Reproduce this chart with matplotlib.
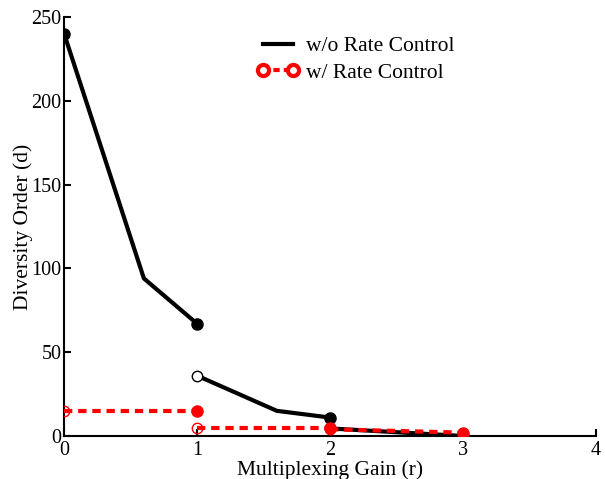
import matplotlib.pyplot as plt
from matplotlib.lines import Line2D

plt.rcParams["font.family"] = ["Liberation Serif", "DejaVu Serif"]
plt.rcParams["mathtext.fontset"] = "stix"

# black curve (w/o rate control), three pieces
black_x = [[0, 0.6, 1], [1, 1.6, 2], [2, 3]]
black_y = [[240, 94, 67], [36, 15, 11], [4.5, 0]]
black_open = [False, True, True]

# red curve (w/ rate control), three pieces
red_x = [[0, 1], [1, 2], [2, 3]]
red_y = [[15, 15], [5, 5], [4, 2]]

fig = plt.figure(figsize=(6.05, 4.79), dpi=100)
ax = fig.add_axes([0.106, 0.0898, 0.879, 0.8747])

for xs, ys, op in zip(black_x, black_y, black_open):
    ax.plot(xs, ys, color="black", lw=3, solid_capstyle="butt", zorder=3)
    if op:
        ax.plot(xs[0], ys[0], "o", ms=7.5, mfc="white", mec="black", mew=1, zorder=4)
    else:
        ax.plot(xs[0], ys[0], "o", ms=8, color="black", zorder=4)
    ax.plot(xs[-1], ys[-1], "o", ms=8, color="black", zorder=4)

for xs, ys in zip(red_x, red_y):
    ax.plot(xs, ys, color="red", lw=3, ls=(0, (2, 1.4)), zorder=5)
    ax.plot(xs[0], ys[0], "o", ms=7.5, mfc="none", mec="red", mew=1, zorder=6)
    ax.plot(xs[-1], ys[-1], "o", ms=8, color="red", zorder=6)

ax.set_xlim(0, 4)
ax.set_ylim(0, 250)
ax.set_xticks([0, 1, 2, 3, 4])
ax.set_yticks([0, 50, 100, 150, 200, 250])
ax.spines["top"].set_visible(False)
ax.spines["right"].set_visible(False)
ax.spines["left"].set_linewidth(1.5)
ax.spines["bottom"].set_linewidth(1.5)
ax.tick_params(direction="in", length=5, width=1.5, labelsize=14.5, pad=2)
ax.tick_params(axis="x", pad=3.5)
ax.set_xlabel("Multiplexing Gain (r)", fontsize=15.5, labelpad=0.5)
ax.set_ylabel("Diversity Order (d)", fontsize=15.5, labelpad=-1)

handles = [
    Line2D([], [], color="black", lw=3),
    Line2D([], [], color="red", lw=3, ls=(0, (1.5, 1)), marker="o",
           ms=8, mfc="white", mec="red", mew=3),
]
ax.legend(handles, ["w/o Rate Control", "w/ Rate Control"], frameon=False,
          fontsize=15.5, loc="upper center", bbox_to_anchor=(0.548, 1.0),
          handlelength=2.0, numpoints=2, handletextpad=0.3,
          borderaxespad=0.5, labelspacing=0.3)

plt.savefig("out.png")
plt.close()
